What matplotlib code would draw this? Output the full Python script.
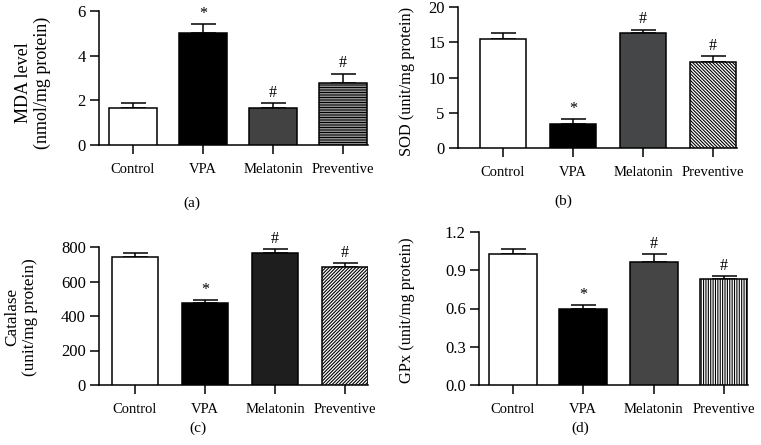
import matplotlib
matplotlib.use("Agg")
import matplotlib.pyplot as plt
import numpy as np

plt.rcParams['font.family'] = ['Liberation Serif', 'DejaVu Serif']
plt.rcParams['hatch.linewidth'] = 0.8
plt.rcParams['hatch.color'] = 'black'

groups = ["Control", "VPA", "Melatonin", "Preventive"]

mda = [1.64, 5.02, 1.64, 2.77]
mda_err = [0.24, 0.40, 0.24, 0.43]
mda_marks = ["", "*", "#", "#"]

sod = [15.4, 3.4, 16.3, 12.2]
sod_err = [0.9, 0.7, 0.5, 0.9]
sod_marks = ["", "*", "#", "#"]

cat = [742, 473, 765, 682]
cat_err = [21, 22, 21, 25]
cat_marks = ["", "*", "#", "#"]

gpx = [1.03, 0.595, 0.965, 0.83]
gpx_err = [0.035, 0.035, 0.065, 0.025]
gpx_marks = ["", "*", "#", "#"]

W, H = 761, 445
fig = plt.figure(figsize=(W / 100, H / 100), dpi=100)


def px_axes(left, right, top, bottom):
    return fig.add_axes([left / W, 1 - bottom / H, (right - left) / W, (bottom - top) / H])


panels = [
    dict(box=(99, 368, 11, 145), x0=133, step=70, vals=mda, errs=mda_err, marks=mda_marks,
         ylim=6, ticks=[0, 2, 4, 6], fmt="{:.0f}", mel="#424242", hatch="-" * 10,
         width=0.69, ylabel="MDA level\n(nmol/mg protein)", ylab_xy=(33, 83), ylab_fs=13,
         tag="(a)", tag_xy=(192, 203)),
    dict(box=(458, 737, 7, 148), x0=503, step=70, vals=sod, errs=sod_err, marks=sod_marks,
         ylim=20, ticks=[0, 5, 10, 15, 20], fmt="{:.0f}", mel="#444648", hatch="\\" * 10,
         width=0.67, ylabel="SOD (unit/mg protein)", ylab_xy=(407, 81), ylab_fs=11.8,
         tag="(b)", tag_xy=(563, 201)),
    dict(box=(99, 368, 247, 385), x0=135, step=70, vals=cat, errs=cat_err, marks=cat_marks,
         ylim=800, ticks=[0, 200, 400, 600, 800], fmt="{:.0f}", mel="#1e1e1e", hatch="/" * 10,
         width=0.66, ylabel="Catalase\n(unit/mg protein)", ylab_xy=(21, 317), ylab_fs=12.3,
         tag="(c)", tag_xy=(198, 428)),
    dict(box=(479, 748, 232, 385), x0=513, step=70.3, vals=gpx, errs=gpx_err, marks=gpx_marks,
         ylim=1.2, ticks=[0.0, 0.3, 0.6, 0.9, 1.2], fmt="{:.1f}", mel="#454545", hatch="|" * 7,
         width=0.68, ylabel="GPx (unit/mg protein)", ylab_xy=(407, 310), ylab_fs=11.8,
         tag="(d)", tag_xy=(580, 428)),
]

x = np.arange(len(groups))
for p in panels:
    l, r, t, b = p["box"]
    ax = px_axes(l, r, t, b)
    xl = ((l - p["x0"]) / p["step"], (r - p["x0"]) / p["step"])
    colors = ["white", "black", p["mel"], "white"]
    bars = ax.bar(x, p["vals"], width=p["width"], color=colors, edgecolor="black",
                  linewidth=1.1, zorder=3)
    bars[3].set_hatch(p["hatch"])
    ax.errorbar(x, p["vals"], yerr=[[0] * 4, p["errs"]], fmt="none", ecolor="black",
                elinewidth=1.1, capsize=9, capthick=1.1, zorder=2)
    for xi, v, e, m in zip(x, p["vals"], p["errs"], p["marks"]):
        if m:
            ax.annotate(m, (xi, v + e), xytext=(0, 1.5), textcoords="offset points",
                        ha="center", va="bottom", fontsize=11.5)
    ax.set_xlim(*xl)
    ax.set_ylim(0, p["ylim"])
    ax.set_yticks(p["ticks"])
    ax.set_yticklabels([p["fmt"].format(v) for v in p["ticks"]], fontsize=12)
    ax.set_xticks(x)
    ax.set_xticklabels(groups, fontsize=10.5)
    ax.tick_params(axis="both", direction="out", length=6.5, width=1.1, pad=3)
    ax.tick_params(axis="x", pad=6.5)
    for s in ("top", "right"):
        ax.spines[s].set_visible(False)
    for s in ("left", "bottom"):
        ax.spines[s].set_linewidth(1.1)
    ax.patch.set_alpha(0)
    fig.text(p["ylab_xy"][0] / W, 1 - p["ylab_xy"][1] / H, p["ylabel"], rotation=90,
             ha="center", va="center", fontsize=p["ylab_fs"], linespacing=1.1,
             multialignment="center")
    fig.text(p["tag_xy"][0] / W, 1 - p["tag_xy"][1] / H, p["tag"], ha="center", va="center",
             fontsize=11)

fig.savefig("out.png", dpi=100)
